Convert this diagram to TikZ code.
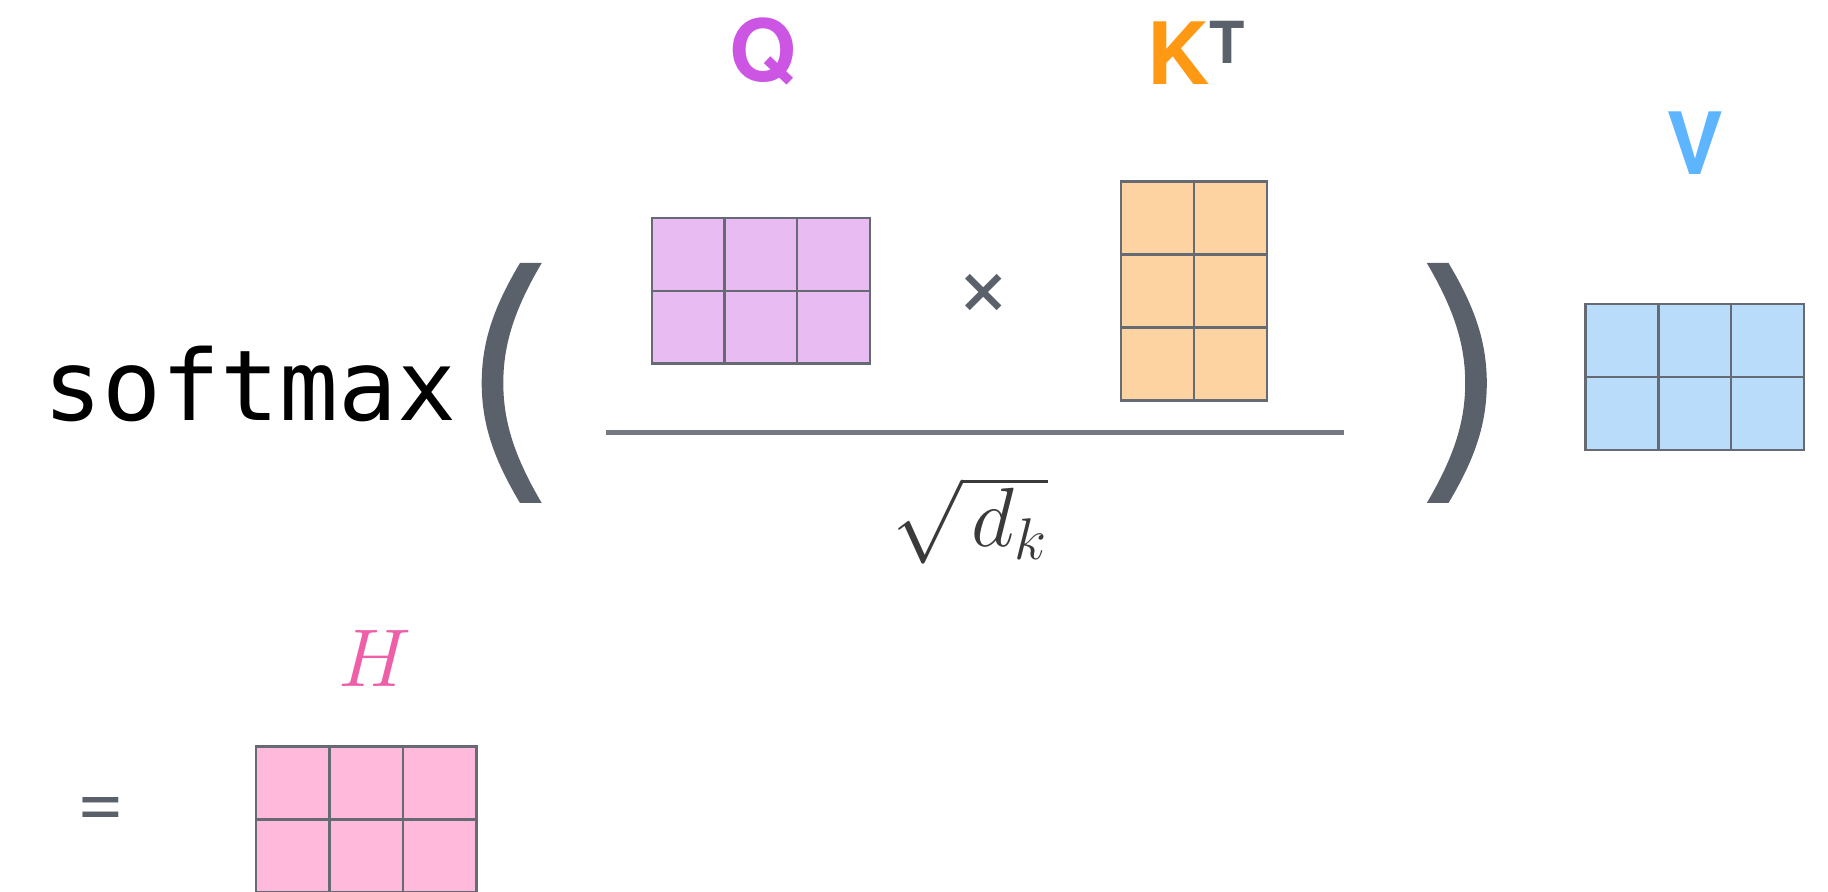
\RequirePackage{fix-cm}
\documentclass[tikz,border=0pt]{standalone}
\usepackage{fontspec}
\setmainfont{Liberation Sans}
\newfontfamily\monofont{DejaVu Sans Mono}
\newfontfamily\labelfont{TeX Gyre Heros}
\definecolor{qfill}{HTML}{E8BCF2}
\definecolor{kfill}{HTML}{FDD3A1}
\definecolor{vfill}{HTML}{B8DCFA}
\definecolor{hfill}{HTML}{FFB9DB}
\definecolor{qcol}{HTML}{CC55E3}
\definecolor{kcol}{HTML}{FF9914}
\definecolor{vcol}{HTML}{5DB5FF}
\definecolor{hcol}{HTML}{EE5FA7}
\definecolor{darkgray}{HTML}{5B616B}
\definecolor{gridcol}{HTML}{666A73}
\definecolor{sqcol}{HTML}{3A3A3A}
\tikzset{
  gridline/.style={draw=gridcol, line width=1.2pt},
  lbl/.style={inner sep=0pt, font=\labelfont\bfseries\fontsize{43}{52}\selectfont},
}
\newcommand\matgrid[7]{%
  \draw[gridline, fill=#7] (#1,#2) rectangle ++({#3*#5},{#4*#6});
  \foreach \i in {1,...,#3} {\draw[gridline] ({#1+\i*#5},#2) -- ++(0,{#4*#6});}
  \foreach \j in {1,...,#4} {\draw[gridline] (#1,{#2+\j*#6}) -- ++({#3*#5},0);}
}
\newcommand\parenpath{(520,263) .. controls (495,305) and (481.7,340) .. (481.7,383) .. controls (481.7,426) and (495,461) .. (520,503) -- (541.7,503) .. controls (514,456) and (503.3,421) .. (503.3,383) .. controls (503.3,345) and (514,310) .. (541.7,263) -- cycle}
\begin{document}
\begin{tikzpicture}[x=0.5pt, y=-0.5pt]
\fill[white] (0,0) rectangle (1828,892);
\useasboundingbox (0,0) rectangle (1828,892);

% softmax
\node[font=\monofont\fontsize{49}{59}\selectfont, anchor=base west, inner sep=0pt] (softmax) at (43,421) {softmax};

% parentheses
\fill[darkgray] \parenpath;
\begin{scope}[shift={(1968.5,0)}, xscale=-1]
\fill[darkgray] \parenpath;
\end{scope}

% fraction line
\draw[draw=darkgray!85, line width=2.3pt] (606,432.5) -- (1344,432.5);

% matrices
\matgrid{651.7}{218}{3}{2}{72.7}{72.8}{qfill}
\matgrid{1121}{181.4}{2}{3}{73}{73}{kfill}
\matgrid{1585.5}{304.3}{3}{2}{72.8}{72.85}{vfill}
\matgrid{256}{746.7}{3}{2}{73.5}{73}{hfill}

% labels
\node[lbl, text=qcol, anchor=base] (qlabel) at (763,82) {Q};
\node[lbl, text=kcol, anchor=base west] (klabel) at (1147,85) {K};
\node[inner sep=0pt, font=\labelfont\bfseries\fontsize{29}{35}\selectfont, text=darkgray, anchor=base west] (tlabel) at (1209,63.3) {T};
\node[lbl, text=vcol, anchor=base] (vlabel) at (1695,175) {V};
\node[inner sep=0pt, font=\fontsize{41}{49}\selectfont, text=hcol, anchor=base] (hlabel) at (375,687) {$H$};

% operators
\node[inner sep=0pt, font=\labelfont\fontsize{50}{60}\selectfont, text=darkgray] (times) at (984,295.5) {×};
\node[inner sep=0pt, font=\labelfont\fontsize{40}{48}\selectfont, text=darkgray] (equals) at (100.5,813) {=};
\node[inner sep=0pt, font=\fontsize{42}{50}\selectfont, text=sqcol, anchor=base] (sqrtdk) at (970,547) {$\sqrt{\mkern2mu d_k}$};
\end{tikzpicture}
\end{document}
